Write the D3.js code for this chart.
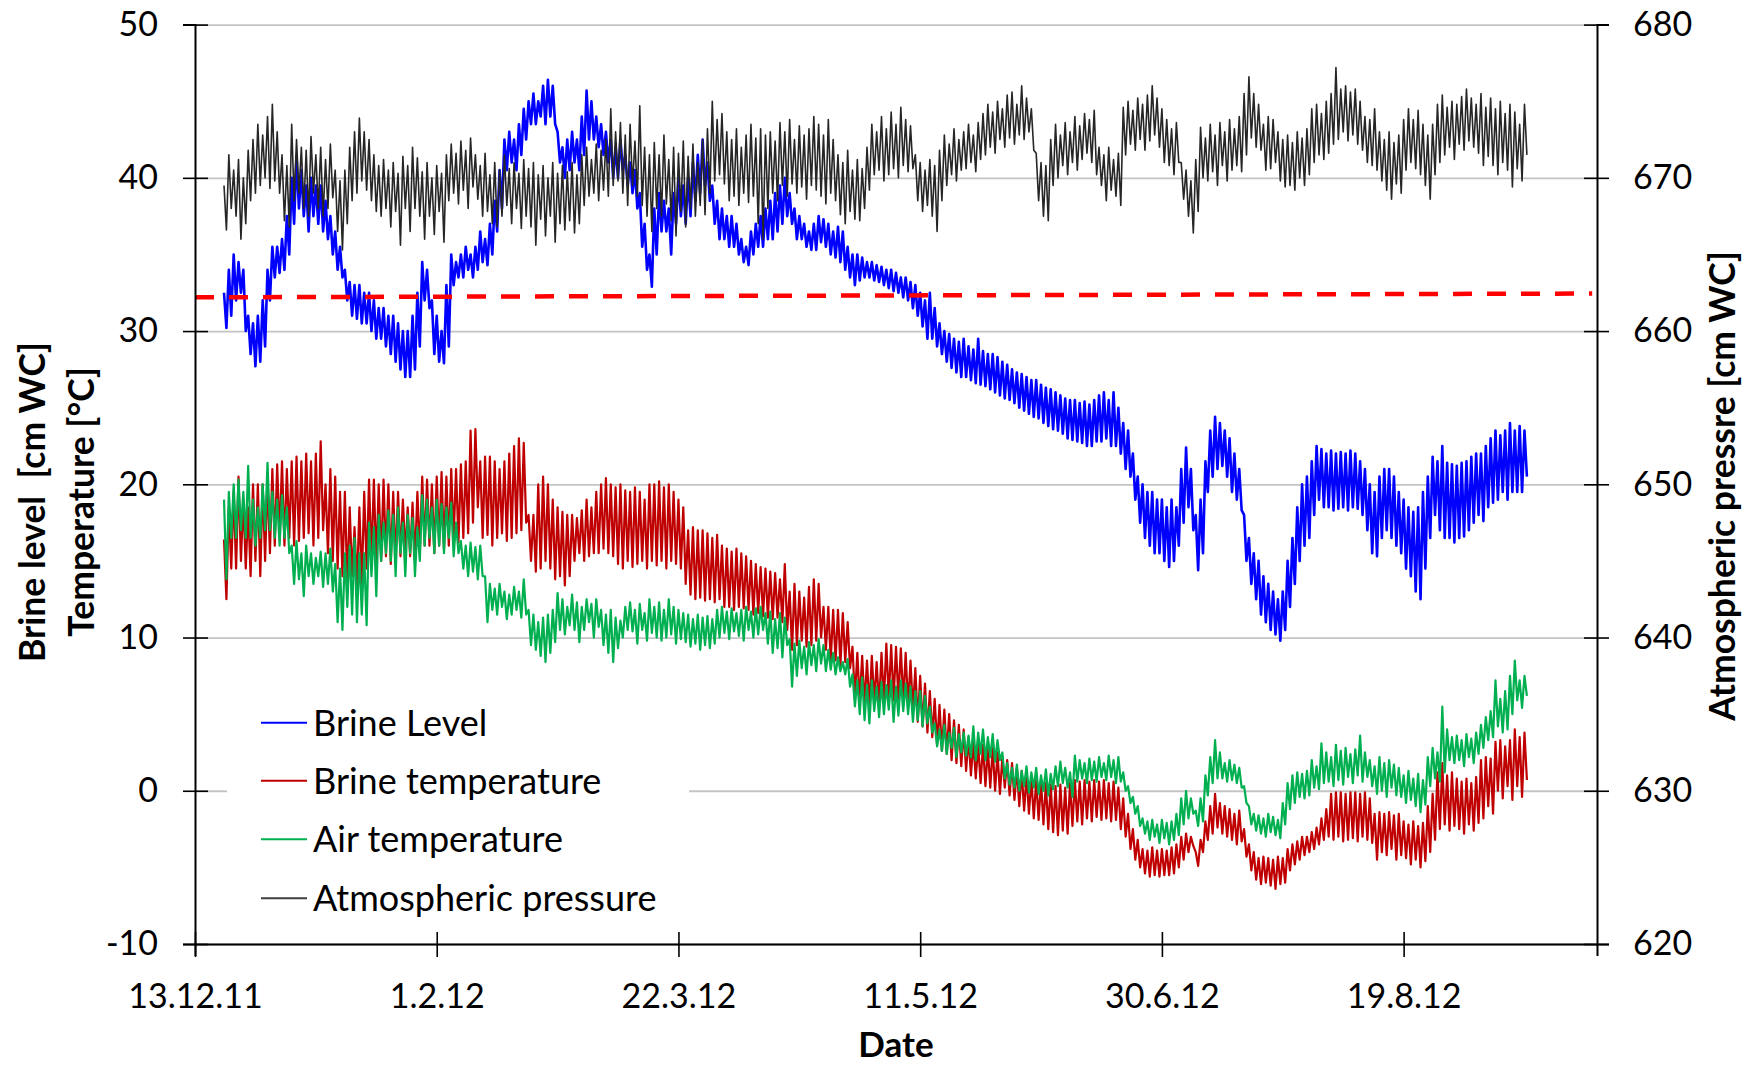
<!DOCTYPE html>
<html><head><meta charset="utf-8">
<script src="https://cdn.jsdelivr.net/npm/d3@7"></script>
<style>
body{margin:0;background:#fff}
svg{display:block}
text{font-family:Lato,"Open Sans",sans-serif;fill:#000}
</style>
</head><body>
<svg id="chart" width="1756" height="1067"></svg>
<script>
// ---------------- data ----------------
const xTickLabels = ["13.12.11","1.2.12","22.3.12","11.5.12","30.6.12","19.8.12"];
const xDomainLabels = ["13.12.11","28.9.12"];
const leftTicks = [-10,0,10,20,30,40,50];
const rightTicks = [620,630,640,650,660,670,680];
const seriesStart = "19.12.11";   // first reading
const stepHours = 12;             // readings every 12 h (day / night)
const seriesNames = ["Brine Level","Brine temperature","Air temperature","Atmospheric pressure"];
const seriesColors = ["#0000FF","#C00000","#00B050","#262626"];

const brineLevel = [
32.5,30.2,34,31,35,32,34.5,32.5,34,30,31,28.5,30.5,27.7,31,28,32,29,34,32,
35.5,33.5,35.5,33.8,36,34,37.5,35,40,37,41.4,38,40.5,37.5,39.5,36.5,40,37.5,39.5,37,
39.5,36.5,38.5,36,37.5,35,36.5,34,35.5,33.5,34,32,33.2,31,33,30.8,33,30.5,32.5,30.5,
32.5,30,32,29.5,31.5,29.5,31.5,29,31,28.5,31,28,30.5,27.5,30,27,30,27,31,27.5,
32.5,29,34.5,32,34,31.5,32,28.5,31,28,30,27.9,33,29,35,33,34.5,33.5,35,33.5,
35.5,34,35,33.5,35.5,34,36.5,34.5,36,34.3,37,35,38.5,36.5,40.5,38,42.5,40.5,43,41,
42.5,40.5,43.5,41.5,44.5,42.5,45,43.5,45.5,43.5,45,44,46,43.5,46.4,44,46,43.5,43,41,
42,40,42.5,40.5,43,41,42.5,40.5,44,41.5,45.7,42.5,45,42.5,44,42,43.5,41.5,43,41,
42.5,40,42,40,42.5,40.5,41.5,39.5,41,39,40.5,38,39,35.5,37,34,35,32.9,38,35,
39,36.5,38.5,36.5,38,35,39,37,40,37.5,39.5,37,40,37.5,41,38.5,41.5,39,42.5,39.5,
41,38.5,39.5,37,38.5,36,38,36,37.5,35.5,37.5,35.5,37,35,36,34.5,35.5,34.3,36.5,35,
37,35.5,37.5,35.5,38,36,38.5,36,39,36.5,39.5,37,40,37.5,39,37,38,36,37.5,36,
37,35.5,36.5,35.3,37,35.3,37.5,35.8,37.3,35.5,37,35,36.5,34.8,36.8,34.5,36.5,34,35.5,33.5,
35,33,35,33.3,34.8,33.5,34.5,33.5,34.5,33.3,34.3,33.2,34.2,33,34,32.8,34,32.6,33.8,32.5,
33.5,32.2,33.5,32,33.2,31.5,33,31,32.5,30.3,32,29.5,32.5,29.5,31.5,29,30.5,28.5,30,28,
29.8,27.6,29.5,27.3,29.3,27,29.5,27,29,26.8,28.8,26.6,29.5,26.5,28.7,26.4,28.5,26.2,28.5,26,
28.3,25.8,28,25.6,27.8,25.5,27.5,25.3,27.3,25,27.2,24.8,27,24.6,26.8,24.4,26.8,24.3,26.5,24,
26.3,23.8,26.2,23.6,26,23.5,25.8,23.3,25.6,23,25.5,22.9,25.5,22.8,25.3,22.7,25.4,22.5,25.2,22.5,
25.5,22.8,25.8,22.8,26,23,25.5,22.5,26,22.5,25,22,24,21,23.5,20.5,22,19,20.5,17.5,
20,16.5,19.5,16,19.5,15.5,19,15.5,19,15,18.5,14.6,19,15,18.5,16,21,17.5,22.4,18.5,
21,17,18,14.4,19,15.5,21.5,19.5,23.5,20.5,24.4,21,24,21.2,23.5,20.5,23,19.5,22,19,
21,18.3,18,15,16.5,13.5,15.5,12.5,15,11.5,14,11,13.5,10.5,13,10.2,12.5,9.8,13,10.5,
15,12,16.5,13.5,18.5,15,20,16,20.5,16.5,21.5,18,22.5,19,22.3,18.5,22,18.5,22.2,18.3,
22,18.4,22.1,18.5,22,18.3,22.2,18.5,22,18.4,21.5,18,21,17,20,15.5,19.5,15.3,20.5,16.5,
21,17,21,16.5,20.5,16,19.5,15.5,19,14.5,18.5,14,18.2,13,18.5,12.5,19.5,14.5,20.5,16.5,
21.8,18,21.5,17,22.5,16.5,21.4,16.5,21.3,16.2,21.2,16.5,21.4,16.6,21.5,17,21.8,17.5,22,18,
22,17.6,22.5,18.5,23,18.8,23.5,19,23.2,19.5,23.5,19,24,19.5,23.5,19.5,23.8,19.5,23.5,20.5
];

const brineTemp = [
16.4,12.5,18.5,14.5,19.5,14.5,20.5,15,19,14.5,18.5,14,20,15,20,14,20,15,20.3,15.5,
21,16,21.3,16.5,21.5,16,21,16.5,21.5,16,21.8,16.3,21.5,16.5,22,16.8,21.5,16,22,16.5,
22.8,17,20,15.5,21,15,20.5,14.5,19.5,14,19.5,13.5,18.5,14,17.2,13.3,18.5,13.5,19.5,14.5,
20.3,15,20.3,14.8,20,15,20.3,15.3,20,14.8,19.5,15,19.5,15.3,19,15.5,18.5,15.3,18.8,15,
19.5,15.5,20.5,16,20.3,16,20,15.5,20.5,16,20.8,15.8,20.5,16,21,16.5,21,16.2,21.3,16.5,
21.5,16.8,23.5,17.5,23.6,18.5,21.5,16.5,21.8,16.7,21.8,16,21.5,16.5,21,16.8,21.5,16.3,22,16.5,
22.5,16.8,23,17,22.7,17.5,18,15,18,14.3,20,14.5,20.5,15,20,14.5,19,13.8,18.5,14,
18.2,13.4,18,14,18,15,17.8,15.5,18.3,15,19,15.3,18.5,15.5,19.5,15.5,20,15.8,20.4,15.5,
20,15.3,19.8,14.8,20,14.5,19.6,15,19.5,14.6,19.8,14.8,19.5,15,19,14.5,20,15,20,14.7,
20.2,15,19.8,14.5,20,15,19.5,14.8,19,14.5,18.5,13.5,17,12.8,17.2,12.5,17,12.6,17,12.4,
16.8,12.5,16.5,12.3,16.7,12.5,16,12,15.8,12,15.6,11.8,15.8,12,15.5,11.9,15.3,11.8,15,11.5,
14.8,11.6,14.6,11.4,14.5,11.3,14.3,11.2,14.2,11.3,13.8,11,14.8,10.5,13,9.2,13.5,9.5,13,9.8,
12.6,9.4,13.3,9.5,13.8,9.8,13.5,10,12,9.2,12,8.5,11.8,8.5,11.8,8.2,11.6,8.4,11,8,
9.4,6,9,5.8,8.8,5.6,8.5,5.4,8.8,5.8,8.4,5.5,9,5.8,9.6,6,9.5,5.9,9.4,6,
9.3,5.8,9,5.5,8.5,5.2,8,4.5,7.5,4.2,7,3.8,6.5,3.5,6,3,5.6,2.6,5.3,2.4,
5,2,4.6,1.8,4.3,1.6,4,1.3,3.5,1,3.2,0.8,3,0.5,3,0.3,2.8,0.2,2.8,0,
2.5,-0.2,2.2,0.2,2,-0.3,1.8,-0.6,1.5,-1,1.3,-1.3,1,-1.5,0.8,-1.8,0.7,-1.9,0.6,-2.2,
0.5,-2.5,0.4,-2.7,0.3,-2.9,0.4,-2.6,0.2,-2.8,0.5,-2.3,0.7,-2,0.6,-2.2,0.7,-1.8,0.6,-2,
0.7,-1.7,0.6,-1.9,0.7,-1.8,0.5,-2,0.6,-1.9,0.2,-2.5,-0.5,-3,-1.5,-3.8,-2.5,-4.5,-3.2,-5,
-3.8,-5.4,-3.9,-5.6,-3.7,-5.5,-3.9,-5.6,-3.8,-5.5,-3.9,-5.5,-3.7,-5.4,-3.5,-5,-3,-4.5,-2.8,-4,
-3,-3.6,-4,-4.9,-3.2,-4,-2,-3.2,-1,-2.8,-0.2,-2.4,-0.8,-2.8,-1,-3,-1.2,-3.2,-1.5,-3.5,
-1.3,-3.3,-2.5,-4.3,-3.5,-5.2,-4,-5.8,-4.4,-6.1,-4.3,-6,-4.4,-6.2,-4.5,-6.4,-4.3,-6.1,-4.4,-6,
-3.8,-5.2,-3.5,-4.8,-3.3,-4.5,-3,-4.2,-3,-4,-2.7,-3.8,-2.4,-3.5,-1.8,-3.2,-1.2,-3,-0.2,-3.2,
-0.1,-3,-0.1,-3.3,-0.2,-3.2,-0.1,-3.1,-0.1,-3.3,-0.2,-3,-0.1,-3.2,-0.5,-3.4,-1.5,-4.5,-1.4,-4,
-1.5,-4.2,-1.4,-3.8,-1.6,-4.5,-1.5,-4.2,-2,-4.4,-2.2,-4.8,-2,-4.5,-2.3,-5,-2.1,-4.6,-1,-4,
-0.2,-3.2,1.2,-2.5,1.8,-2.2,1,-2.6,1.2,-2.3,0.8,-2.5,0.6,-2.8,0.8,-2.2,0.5,-2.6,0.9,-2.1,
2,-1.8,2.2,-1,2.1,-1.5,3.2,0,3.3,-0.5,2.9,0.3,3.3,-0.6,4,0.3,3.5,-0.4,3.8,0.7
];

const airTemp = [
19,13.8,19.5,16.5,20,16.5,20.3,17,19.5,16.5,21.2,16.5,19,16,18.5,16.5,20,17,21.4,17,
19.5,16.5,19,16,19.3,16.5,18.5,15.5,16,13.5,16.3,13.8,15.5,12.7,16,14,15.5,13.5,15.2,14,
15.6,13.3,15.5,13.5,15.8,13,14.8,11,14.5,10.5,15.5,12,16,11.5,16.5,11,15.5,11.5,15.5,10.8,
17.5,14,17.2,12.7,18,15,17.5,15.5,18.3,15,18,14,18.5,15.5,17.5,14,18,15.5,17.8,14,
17.2,15,19.3,16,19,16.5,18.5,15.5,19,16,18.7,15.5,18.5,16.5,18.8,15.3,17.5,15.5,16.3,14.5,
16,14,16.2,14.3,15.9,13.8,16,14,14,11,13.5,11.8,13.2,11.5,13.5,12,13,11.2,12.8,11.5,
13.3,11.8,13,11.3,13.8,11.5,11.8,9.5,11.5,9.2,11,8.8,11.3,8.4,11.5,9,11.8,9.7,12.9,10.5,
12.5,10.2,12,10.8,12.8,10.5,12.3,9.7,12,10.5,12.5,11,12.2,10,12.5,10.7,11.8,9.5,11.5,9,
11.8,8.4,11.3,9.3,11.1,10,12,10.5,12.3,10.4,11.8,9.6,12.2,10.5,11.6,9.8,12.5,10.3,12,10,
12.3,9.8,11.8,10,12.5,10.2,12,9.6,11.8,9.9,11.6,9.7,11.5,9.4,11.2,9.6,11.5,9.2,11.3,9.5,
11.4,9.3,11.2,9.6,11.8,10,12,10.3,11.7,9.9,11.9,10.4,11.6,10.1,11.8,9.8,12,10.5,11.7,10,
11.9,10.2,12,10.5,11.6,9.6,11.7,9,11.2,9.3,11.6,8.7,11.3,9.5,9.9,6.8,9.6,7.5,9.8,8,
9.4,7.6,9.7,8.2,9.5,7.8,9.9,8.3,9.5,7.8,9.2,7.9,9,7.6,8.7,7.8,8.4,7.6,8.6,6.8,
7.6,5.5,7.2,5,7.4,4.6,6.9,4.4,7.2,5.2,6.8,4.8,7.1,5,6.9,5.3,7.2,4.5,6.8,4.9,
7.2,5.2,7,5,6.8,4.5,6.5,4.6,6.5,4.2,6.2,4.4,5.5,3.8,4.4,2.9,4,2.6,4.3,2.4,
3.8,2.8,4.1,2.2,3.7,2.5,3.8,2.3,3.6,2.2,4.2,2,3.8,2.4,4,2,3.5,2.2,3.7,1.9,
3.3,2,2.5,0.8,1.8,0.4,1.5,0.2,1.7,0,1.3,0.3,1.6,-0.1,1.2,0.2,1.5,-0.2,1,0,
1.4,-0.3,1.1,0.1,1.6,0.3,1.9,0.5,1.5,0.2,1.2,-0.4,2.3,0.6,2,0.8,1.8,0.5,2.1,0.7,
1.9,0.6,2.2,0.9,1.8,0.7,2.3,0.9,2,0.5,2.2,0.6,1.2,0,0.3,-0.8,-0.4,-1.5,-1,-2.3,
-1.8,-2.8,-2,-3.2,-1.9,-3,-2.2,-3.4,-1.9,-3.1,-2.1,-3.5,-2,-3.2,-1.5,-2.9,-0.5,-2.2,0,-1.8,
-0.5,-1.5,-1.3,-2.3,-0.5,-2,1,-0.3,2.2,0.5,3.3,0.8,2.5,0.8,1.8,0.6,2,0.7,1.7,0.5,
1.5,0.2,0.3,-0.8,-1,-2.2,-1.5,-2.6,-1.6,-2.8,-1.8,-3,-1.5,-2.7,-1.7,-2.9,-1.9,-3.1,-0.8,-2.2,
0.5,-1.2,1,-0.8,1.2,-0.4,1.1,-0.5,1.3,-0.3,2,0.2,1.6,0.1,3.1,0.5,2.5,0.6,2.2,0.3,
3,0.7,2.6,0.4,2.8,0.9,2.4,0.5,2.7,1,3.6,0.6,2.5,0.9,2,0.3,1.6,-0.2,2.2,0,
1.8,-0.4,2,0.2,1.7,-0.3,1.5,-0.4,1,-0.8,1.3,-0.6,0.8,-1,1.1,-1.4,0.7,-0.9,2.2,0.3,
2.8,0.8,2.5,0.6,5.5,1.2,4,2,3.5,1.8,3.6,2,3.3,1.6,3.7,2.2,3.4,1.8,3.8,2.4,
4.3,2.8,4.8,3.3,5.2,3.5,7.2,4.2,6,3.8,6.5,4,7.5,5,8.5,5.9,7.2,5.4,7.5,6.2
];

const atmPressure = [
669.5,666.6,671.5,668,670.5,667.5,671.2,666,670,667,671.8,668.5,672.5,669,673.5,669.5,672.8,670,674,669.3,
674.8,669.8,673,669,671.5,667.2,670.8,666.8,673.5,668.5,672.5,669,672,668,671.8,667.5,672.7,669,671.5,668,
672,667.5,671.2,668,672.2,668.7,670.5,666.5,669.8,665.3,670.5,667,672,668.5,673,669,673.9,669.8,673,669.2,
672.5,668.5,671.5,667.8,670.8,667.5,671.2,668,670.5,666.8,671,667.8,670.3,665.6,671.4,668,670.8,666.5,672,668,
671.3,667.5,670.4,666,671,667.5,670,666.3,670.8,667.8,670.3,665.8,671.5,668.5,672.2,669,671.6,668.3,672.4,669.2,
671.8,668,672.6,669.4,671.5,668.6,670.8,667.5,671.6,667.8,670.2,667,671,666.8,670.5,667.5,671.5,668.2,670.6,667,
671,668,670.3,666.7,671.2,667.5,670.6,666.8,671,665.6,670.2,667.3,670.8,666.2,670,667.5,671,665.8,670.3,667,
670.8,666.6,670.4,667.2,671,666.4,670.2,667,671.5,668.2,672,668.8,671.2,669,672.2,668.5,671.8,669.2,672.5,668.8,
674.5,669.5,673,669.8,673.6,669,672.8,668.2,673.5,669.5,672.4,668.8,674.7,668.2,672,667.5,671.5,666.5,672.3,668,
671.5,667.5,672.8,668.3,671.2,667.2,672,666.2,671.6,667.8,672.4,666.8,671.4,668,672.2,667.5,671,668.2,672.5,667.6,
673.2,669,675,669.8,673.8,670.2,674.2,669.6,673,668.5,672.5,668.8,673.2,668.2,672,669,672.8,668.4,673.5,668.8,
672.6,667,673.2,666,672.8,668,673,669,672.4,668.5,673.6,669.5,673,668.8,673.8,669.6,672.5,669,673.4,669.4,
672.8,668.6,673.2,669.5,674,669.2,673.5,668.8,672.8,668.3,673.8,669,672.5,668.5,671.5,667.6,671,667,671.8,667.8,
670.5,667.3,671.2,667.2,670.6,668,672,669.2,673.5,670.2,673,670.5,674,669.8,673.2,670.2,674.3,670.6,673.5,670,
674.6,670.8,673.8,670.4,673.4,670.6,671.5,668.5,671,667.8,670.5,668.2,671.2,667.5,670.8,666.5,671.8,668.5,672.8,669.5,
672.2,670.2,673.2,669.8,672.5,670.5,673,670.6,673.5,671,672.8,670.4,673.6,671.2,674.2,671.5,674.8,672,674.3,671.6,
675,672.5,674.5,672,675.4,672.6,675.6,672.2,674.8,672.8,676,672.5,675.2,673,674.5,671.8,671.6,668.5,671,667.5,
670.8,667.2,672.5,669.5,673.5,670,672.8,670.8,673.6,670.2,673,671,674,670.5,673.4,671.2,674.2,671.6,673.8,671,
674.4,670.2,672,669.5,671.5,668.5,672,669.2,671.2,668.8,671.6,668.2,674.6,671.5,675,672.2,674.4,671.8,675.2,672.5,
674.8,671.8,675.4,672.4,676,672.8,675.2,672,674.5,671,673.8,670.8,673.2,670.2,673.6,671,671,668.6,670.5,667.5,
669.8,666.4,671.2,667.8,673.3,670,672.6,669.8,673.5,670.4,672.8,669.5,673.6,670.8,673,669.8,673.8,670.5,673.2,670.8,
674,670.4,675.5,671.5,676.6,672.6,675.5,672,674.8,671.8,673.5,670.5,674,670.6,673.8,671,673,669.8,672.5,669.4,
672.8,669.5,672.3,669.2,673,670,672.6,669.5,673.2,670.2,674.5,671,674.8,671.5,674.2,671.2,675,671.6,675.5,672.2,
677.2,672.5,675.8,673,676,672.4,675.6,672.8,675.8,672.2,675,671.8,674,671,673.8,670.8,674.5,670.5,673,669.8,
672.5,669.2,673,668.6,672.3,669.6,672.8,669,673.8,670.5,674.5,671,673.8,670.6,674.4,670.2,673.5,669.5,672.8,668.6,
673.5,670.2,674.8,671,675.4,671.5,674.6,672,675,671.2,674.8,672.2,675.3,671.8,675.8,672.4,675.2,672,674.8,671.6,
675.5,670.8,674.6,671.4,675.2,670.8,674.5,670.2,675,671,674.2,670.5,674.8,669.4,674.3,670.6,673.5,669.8,674.8,671.5
];

// red dashed reference level (start / end)
const thresholdDates = ["13.12.11","27.9.12"];
const thresholdValues = [32.2, 32.45];

// ---------------- chart ----------------
const svg = d3.select("#chart");
const plot = {left:195, right:1597, top:24.6, bottom:944};

const parse = d3.utcParse("%d.%m.%y");
const fmt = d3.utcFormat("%-d.%-m.%y");
const x = d3.scaleUtc().domain(xDomainLabels.map(parse)).range([plot.left, plot.right]);
const yL = d3.scaleLinear().domain([leftTicks[0], leftTicks[leftTicks.length-1]]).range([plot.bottom, plot.top]);
const yR = d3.scaleLinear().domain([rightTicks[0], rightTicks[rightTicks.length-1]]).range([plot.bottom, plot.top]);

const t0 = parse(seriesStart).getTime();
const tAt = i => new Date(t0 + i*stepHours*3600e3);

// gridlines
const grid = svg.append("g").attr("transform",`translate(${plot.left},0)`)
  .call(d3.axisLeft(yL).tickValues(leftTicks).tickSize(-(plot.right-plot.left)).tickFormat(""));
grid.select(".domain").remove();
grid.selectAll("line").attr("stroke","#c4c4c4").attr("stroke-width",1.8);

// series
const line = sc => d3.line().x((d,i)=>x(tAt(i))).y(d=>sc(d));
const series = [
  {v:brineLevel, sc:yL, c:seriesColors[0], w:2.6},
  {v:brineTemp, sc:yL, c:seriesColors[1], w:2.2},
  {v:airTemp, sc:yL, c:seriesColors[2], w:2.2},
  {v:atmPressure, sc:yR, c:seriesColors[3], w:1.6}
];
series.forEach(s=>{
  svg.append("path").datum(s.v).attr("fill","none").attr("stroke",s.c)
    .attr("stroke-width",s.w).attr("stroke-linejoin","round").attr("d",line(s.sc));
});

// threshold dashed line
svg.append("path").datum(thresholdValues).attr("fill","none")
  .attr("stroke","#FF0000").attr("stroke-width",4.5).attr("stroke-dasharray","19,15")
  .attr("d", d3.line().x((d,i)=>x(parse(thresholdDates[i]))).y(d=>yL(d)));

// axes
const plain = d => String(d);
function styleAxis(g){
  g.select(".domain").attr("stroke","#000").attr("stroke-width",2);
  g.selectAll(".tick line").attr("stroke","#000").attr("stroke-width",1.6);
  g.selectAll(".tick text").style("font-size","34px").attr("fill","#000");
}
const axL = svg.append("g").attr("transform",`translate(${plot.left},0)`)
  .call(d3.axisLeft(yL).tickValues(leftTicks).tickFormat(plain).tickSizeOuter(0).tickSize(12));
styleAxis(axL);
axL.selectAll(".tick line").attr("x1",13).attr("x2",-12);
axL.selectAll(".tick text").attr("x",-37);

const axR = svg.append("g").attr("transform",`translate(${plot.right},0)`)
  .call(d3.axisRight(yR).tickValues(rightTicks).tickFormat(plain).tickSizeOuter(0).tickSize(12));
styleAxis(axR);
axR.selectAll(".tick line").attr("x1",-13).attr("x2",12);
axR.selectAll(".tick text").attr("x",36);

const axB = svg.append("g").attr("transform",`translate(0,${plot.bottom})`)
  .call(d3.axisBottom(x).tickValues(xTickLabels.map(parse)).tickFormat(fmt).tickSizeOuter(0).tickSize(12));
styleAxis(axB);
axB.selectAll(".tick line").attr("y1",-12).attr("y2",13);
axB.selectAll(".tick text").attr("y",52).attr("dy","0.35em");

// axis titles
const title = (txt,tx,ty,rot,fs) => svg.append("text")
  .attr("transform",`translate(${tx},${ty}) rotate(${rot})`)
  .attr("text-anchor","middle").attr("dy","0.35em")
  .style("font-size",fs+"px").style("font-weight","700").style("white-space","pre").text(txt);
title("Brine level  [cm WC]", 33, 502, -90, 35.5);
title("Temperature [°C]", 82, 502, -90, 35.5);
title("Atmospheric pressre [cm WC]", 1723, 486, -90, 35.5);
title("Date", 896, 1045, 0, 35);

// legend
const leg = svg.append("g");
leg.append("rect").attr("x",227).attr("y",700).attr("width",462).attr("height",225).attr("fill","#fff");
const legendRows = [722.7, 780.7, 839.3, 898.3];
const legendColors = ["#0000FF","#C00000","#00B050","#404040"];
seriesNames.forEach((n,i)=>{
  const gy = legendRows[i];
  leg.append("line").attr("x1",261).attr("x2",307).attr("y1",gy).attr("y2",gy)
    .attr("stroke",legendColors[i]).attr("stroke-width",2);
  leg.append("text").attr("x",313).attr("y",gy+13).style("font-size","36px").text(n);
});
</script>
</body></html>
